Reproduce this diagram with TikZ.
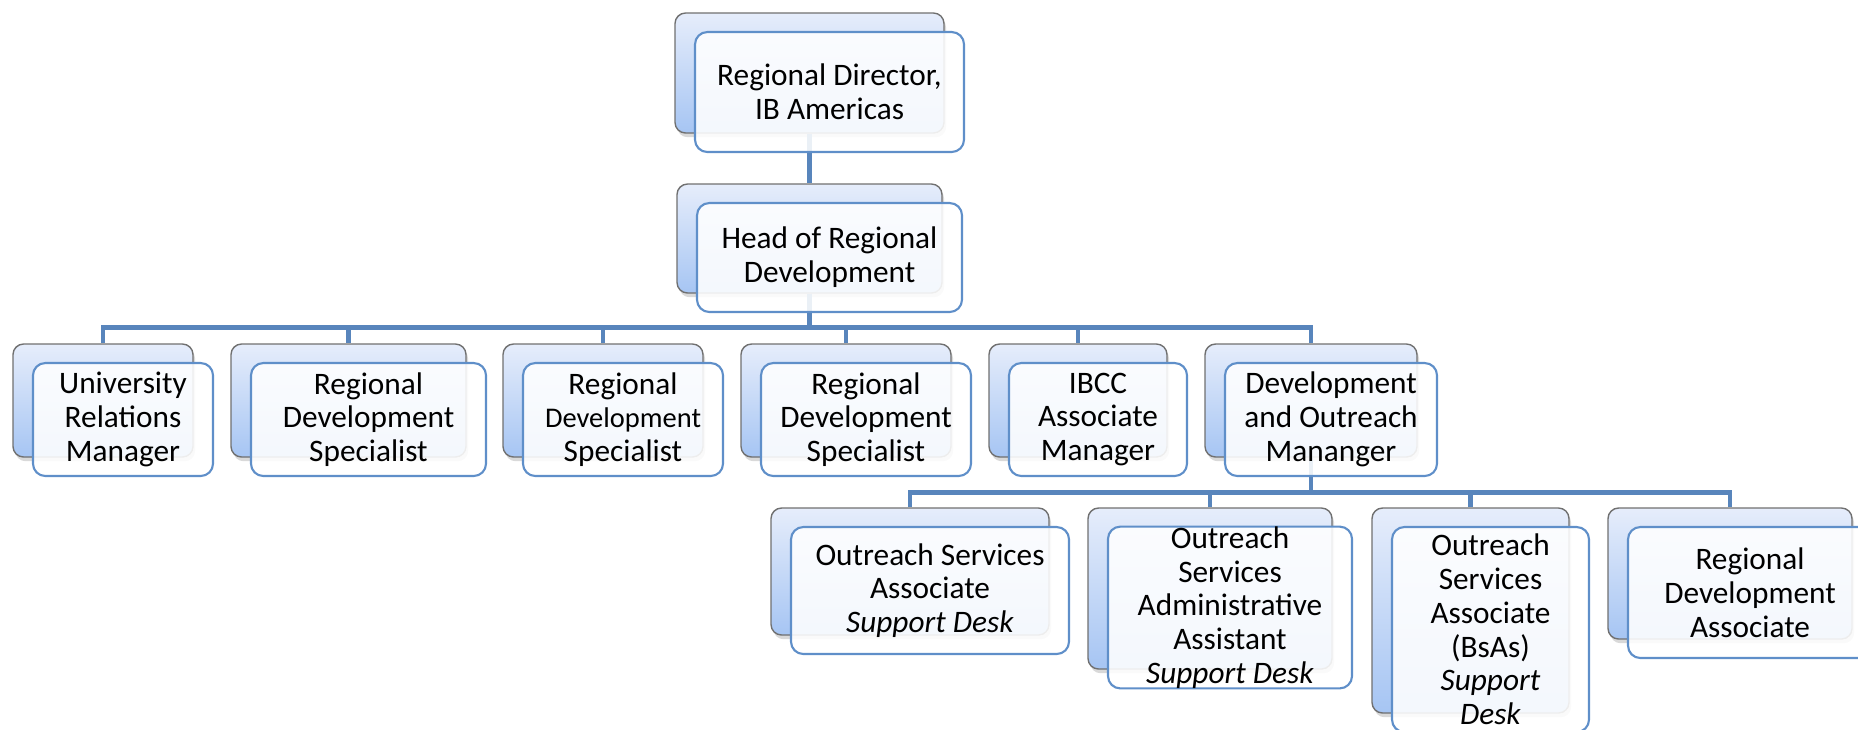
\documentclass[tikz,border=0pt]{standalone}
\usepackage{fontspec}
\setmainfont{Carlito}
\usetikzlibrary{shadows}
\definecolor{linkblue}{RGB}{88,133,188}
\definecolor{frontline}{RGB}{95,143,201}
\definecolor{backtop}{RGB}{230,237,251}
\definecolor{backbot}{RGB}{166,197,243}
\definecolor{backline}{RGB}{112,112,112}
\tikzset{
    backbox/.style={draw=backline, line width=0.4pt, rounded corners=3pt, top color=backtop, bottom color=backbot, drop shadow={opacity=0.3, shadow xshift=0.6pt, shadow yshift=-1.2pt}}, % 后面的渐变框
    frontbox/.style={draw=frontline, line width=0.6pt, rounded corners=3.5pt, fill=white, fill opacity=0.88, text opacity=1, align=center, inner sep=0pt}, % 前面的文字框
    link/.style={draw=linkblue, line width=1.4pt} % 连线
}

\begin{document}
\begin{tikzpicture}[x=0.01cm, y=-0.01cm, font=\fontsize{8.9}{9.6}\selectfont]
    \useasboundingbox (0,0) rectangle (1858,729);
    \clip (0,0) rectangle (1858,729);
    \def\orgboxes{dir/809.5/73/269/120/{Regional Director,\\IB Americas},
        head/809.5/238.5/265/109/{Head of Regional\\Development},
        urm/103/400.5/180/113/{University\\Relations\\Manager},
        rdsa/348.5/400.5/235/113/{Regional\\Development\\Specialist},
        rdsb/603/400.5/200/113/{Regional\\{\fontsize{8.1}{9.6}\selectfont Development}\\Specialist},
        rdsc/846/400.5/210/113/{Regional\\Development\\Specialist},
        ibcc/1078/400.5/178/113/{IBCC\\Associate\\Manager},
        dom/1311/400.5/212/113/{Development\\and Outreach\\Mananger},
        osa/910/571.5/278/127/{Outreach Services\\Associate\\\textit{Support Desk}},
        osaa/1210/588.5/244/161/{Outreach\\Services\\Administrative\\Assistant\\\textit{Support Desk}},
        osab/1470.5/610.5/197/205/{Outreach\\Services\\Associate\\(BsAs)\\\textit{Support}\\\textit{Desk}},
        rda/1730/573.5/244/131/{Regional\\Development\\Associate}}

    \foreach \n/\cx/\cy/\w/\h/\txt in \orgboxes {\node[backbox, minimum width=\w*0.01cm, minimum height=\h*0.01cm] (\n) at (\cx,\cy) {};}

    \draw[link] (dir) -- (head);
    \foreach \c in {urm,rdsa,rdsb,rdsc,ibcc,dom} {\draw[link] (head.south) -- ++(0,34) -| (\c.north);}
    \foreach \c in {osa,osaa,osab,rda} {\draw[link] (dom.south) -- ++(0,35) -| (\c.north);}

    \foreach \n/\cx/\cy/\w/\h/\txt in \orgboxes {\node[frontbox, minimum width=\w*0.01cm, minimum height=\h*0.01cm] (\n-f) at ([shift={(20,19)}]\n.center) {\txt};}
\end{tikzpicture}
\end{document}
